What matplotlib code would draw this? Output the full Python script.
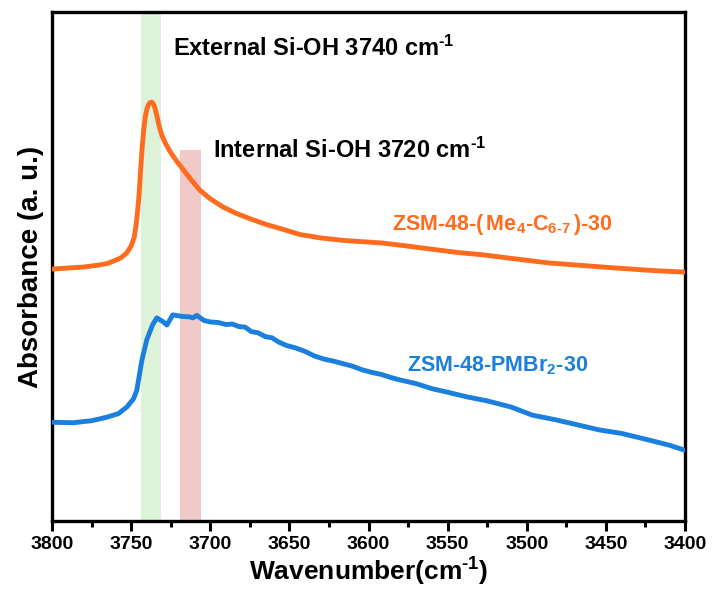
import matplotlib
matplotlib.use("Agg")
import matplotlib.pyplot as plt
from matplotlib.ticker import MultipleLocator

plt.rcParams['font.family'] = ['Liberation Sans', 'DejaVu Sans']
plt.rcParams['font.weight'] = 'bold'
plt.rcParams['mathtext.fontset'] = 'custom'
plt.rcParams['mathtext.rm'] = 'Liberation Sans:bold'
plt.rcParams['mathtext.it'] = 'Liberation Sans:bold'
plt.rcParams['mathtext.bf'] = 'Liberation Sans:bold'
plt.rcParams['mathtext.default'] = 'bf'

# ---- data ----
wn_orange = [3800, 3790, 3780, 3770, 3765, 3760, 3756, 3753, 3750, 3748, 3746.5, 3745,
             3744, 3743, 3742, 3741, 3740, 3739, 3738, 3737, 3736, 3735, 3734, 3733,
             3732, 3730.5, 3728, 3725, 3721, 3717, 3712, 3706.6, 3700, 3692, 3684,
             3675, 3665, 3654, 3643.5, 3630, 3615, 3600, 3591, 3575, 3560, 3545, 3528,
             3510, 3486, 3465, 3443.5, 3420, 3400]
abs_orange = [0.495, 0.497, 0.499, 0.503, 0.506, 0.512, 0.518, 0.526, 0.540, 0.558, 0.590, 0.640,
              0.690, 0.735, 0.770, 0.795, 0.810, 0.818, 0.822, 0.823, 0.820, 0.812, 0.800, 0.786,
              0.772, 0.757, 0.740, 0.724, 0.706, 0.690, 0.670, 0.650, 0.633, 0.617, 0.605,
              0.594, 0.583, 0.573, 0.563, 0.556, 0.551, 0.548, 0.546, 0.540, 0.534, 0.528, 0.523,
              0.516, 0.507, 0.502, 0.497, 0.492, 0.489]

wn_blue = [3800, 3786.8, 3775, 3765.3, 3758, 3752.7, 3748.5, 3746.4, 3743.2, 3740.1,
           3736.5, 3733.8, 3730, 3727.4, 3723.7, 3718, 3713, 3711.0, 3708.5, 3704,
           3700, 3695, 3690, 3686, 3682, 3678, 3674, 3670, 3665, 3661, 3657, 3652,
           3646, 3640, 3634, 3628, 3622, 3616, 3610, 3604, 3598, 3592, 3586, 3580,
           3570, 3560, 3550, 3538, 3525, 3510, 3496.5, 3482, 3468, 3454.3, 3440,
           3422.7, 3410, 3400]
abs_blue = [0.194, 0.193, 0.197, 0.204, 0.211, 0.224, 0.240, 0.257, 0.316, 0.356,
            0.385, 0.399, 0.392, 0.385, 0.405, 0.402, 0.401, 0.399, 0.404, 0.394,
            0.391, 0.390, 0.386, 0.387, 0.382, 0.381, 0.372, 0.370, 0.362, 0.360,
            0.352, 0.345, 0.340, 0.333, 0.324, 0.318, 0.314, 0.309, 0.304, 0.297,
            0.292, 0.288, 0.282, 0.277, 0.270, 0.260, 0.253, 0.244, 0.236, 0.224,
            0.208, 0.199, 0.189, 0.179, 0.172, 0.159, 0.149, 0.139]

band_external = (3744, 3731)
band_internal = (3719, 3706)

orange = '#FF6C1E'
blue = '#1A7FDD'

fig = plt.figure(figsize=(7.12, 5.89), dpi=100)
ax = fig.add_axes([52/712, 1-521/589, 633/712, 509/589])

ax.axvspan(band_external[0], band_external[1], ymin=0, ymax=1, color='#DDF2D9', lw=0, zorder=0)
ax.axvspan(band_internal[0], band_internal[1], ymin=0, ymax=0.729, color='#F2C9C9', lw=0, zorder=0)

ax.plot(wn_orange, abs_orange, color=orange, lw=3.5, solid_joinstyle='round',
        solid_capstyle='round', zorder=3)
ax.plot(wn_blue, abs_blue, color=blue, lw=3.5, solid_joinstyle='round',
        solid_capstyle='round', zorder=3)

ax.set_xlim(3800, 3400)
ax.set_ylim(0, 1)
ax.xaxis.set_major_locator(MultipleLocator(50))
ax.xaxis.set_minor_locator(MultipleLocator(25))
ax.set_yticks([])
ax.tick_params(axis='x', which='major', direction='out', length=7, width=2.2, labelsize=14, pad=4)
ax.tick_params(axis='x', which='minor', direction='out', length=4, width=2.2)
for lab in ax.get_xticklabels():
    lab.set_fontweight('bold')
for s in ax.spines.values():
    s.set_linewidth(2.4)

ax.set_xlabel(r'Wavenumber(cm$^{\text{-1}}$)', fontsize=19, fontweight='bold', labelpad=2)
ax.set_ylabel('Absorbance (a. u.)', fontsize=20, fontweight='bold', labelpad=6)

ax.text(3723.7, 0.929, r'External Si-OH 3740 cm$^{\text{-1}}$', fontsize=17, fontweight='bold',
        ha='left', va='center', color='black')
ax.text(3698.4, 0.729, r'Internal Si-OH 3720 cm$^{\text{-1}}$', fontsize=17, fontweight='bold',
        ha='left', va='center', color='black')
ax.text(3584.9, 0.582, r'ZSM-48-($\,$Me$_4$-C$_{6\text{-}7}$$\,$)-30', fontsize=15.5, fontweight='bold',
        ha='left', va='center', color=orange)
ax.text(3575.4, 0.306, r'ZSM-48-PMBr$_2$-30', fontsize=15.5, fontweight='bold',
        ha='left', va='center', color=blue)

fig.savefig('out.png', dpi=100)
